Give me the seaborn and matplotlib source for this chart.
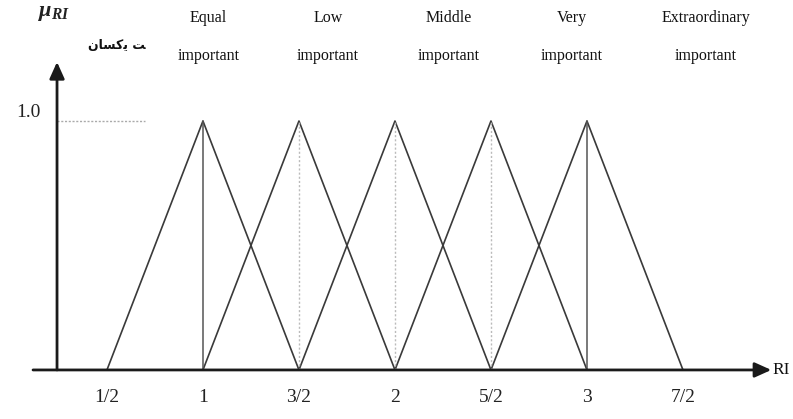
import matplotlib
matplotlib.use("Agg")
import matplotlib.pyplot as plt
import seaborn as sns
import pandas as pd

# fuzzy triangular numbers (l, m, u) for each importance level
levels = ["Equal", "Low", "Middle", "Very", "Extraordinary"]
lower = [0.5, 1.0, 1.5, 2.0, 2.5]
middle = [1.0, 1.5, 2.0, 2.5, 3.0]
upper = [1.5, 2.0, 2.5, 3.0, 3.5]
membership = [0.0, 1.0, 0.0]

tick_values = [0.5, 1.0, 1.5, 2.0, 2.5, 3.0, 3.5]
tick_labels = ["1/2", "1", "3/2", "2", "5/2", "3", "7/2"]
label_x = [1.03, 1.65, 2.28, 2.92, 3.62]
solid_peaks = [1.0, 3.0]
dotted_peaks = [1.5, 2.0, 2.5]

# persian fragment, pre-shaped in visual order (matplotlib does no shaping)
persian = "\ufee5\ufe8e\ufeb4\ufb90\ufef3 \ufe96"

rows = []
for name, l, m, u in zip(levels, lower, middle, upper):
    for x, mu in zip([l, m, u], membership):
        rows.append({"level": name, "RI": x, "mu": mu})
df = pd.DataFrame(rows)

sns.set_style("white")
plt.rcParams["font.family"] = ["Liberation Serif", "DejaVu Sans"]
plt.rcParams["mathtext.fontset"] = "custom"
plt.rcParams["mathtext.it"] = "Liberation Serif:italic:bold"
plt.rcParams["mathtext.rm"] = "Liberation Serif"

fig = plt.figure(figsize=(7.93, 4.19), dpi=100)
ax = fig.add_axes([0, 0, 1, 1])

for name in levels:
    sub = df[df["level"] == name]
    sns.lineplot(data=sub, x="RI", y="mu", sort=False, estimator=None,
                 color="#3a3a3a", linewidth=1.2, ax=ax)

for p in solid_peaks:
    ax.plot([p, p], [0, 1], color="#555555", linewidth=1.1)
for p in dotted_peaks:
    ax.plot([p, p], [0, 1], color="#bbbbbb", linewidth=1.0, linestyle=(0, (1.5, 1.5)))

# axes with arrows
arrow = dict(arrowstyle="-|>,head_length=1.0,head_width=0.45",
             color="#1a1a1a", lw=2, shrinkA=0, shrinkB=0)
ax.annotate("", xy=(3.96, 0), xytext=(0.115, 0), arrowprops=arrow)
ax.annotate("", xy=(0.24, 1.237), xytext=(0.24, 0), arrowprops=arrow)
ax.plot([0.24, 0.70], [1.0, 1.0], color="#aaaaaa", linewidth=1.0, linestyle=(0, (1.5, 1.2)))

for v, t in zip(tick_values, tick_labels):
    ax.text(v, -0.112, t, ha="center", va="center", fontsize=14, color="#222222")
ax.text(0.09, 1.036, "1.0", ha="center", va="center", fontsize=14, color="#222222")
ax.text(3.965, 0, "RI", ha="left", va="center", fontsize=12.5, color="#111111")
ax.text(0.225, 1.43, r"$\mu_{RI}$", ha="center", va="center",
        fontsize=16, color="#222222")

for name, x in zip(levels, label_x):
    ax.text(x, 1.414, name, ha="center", va="center", fontsize=11.5, color="#111111")
    ax.text(x, 1.261, "important", ha="center", va="center", fontsize=11.5, color="#111111")

ax.text(0.55, 1.305, persian, ha="center", va="center", fontsize=9,
        family=["DejaVu Sans"], fontweight="bold", color="#111111")

ax.set_xlim(-0.057, 4.073)
ax.set_ylim(-0.197, 1.486)
ax.axis("off")

fig.savefig("out.png", dpi=100)
